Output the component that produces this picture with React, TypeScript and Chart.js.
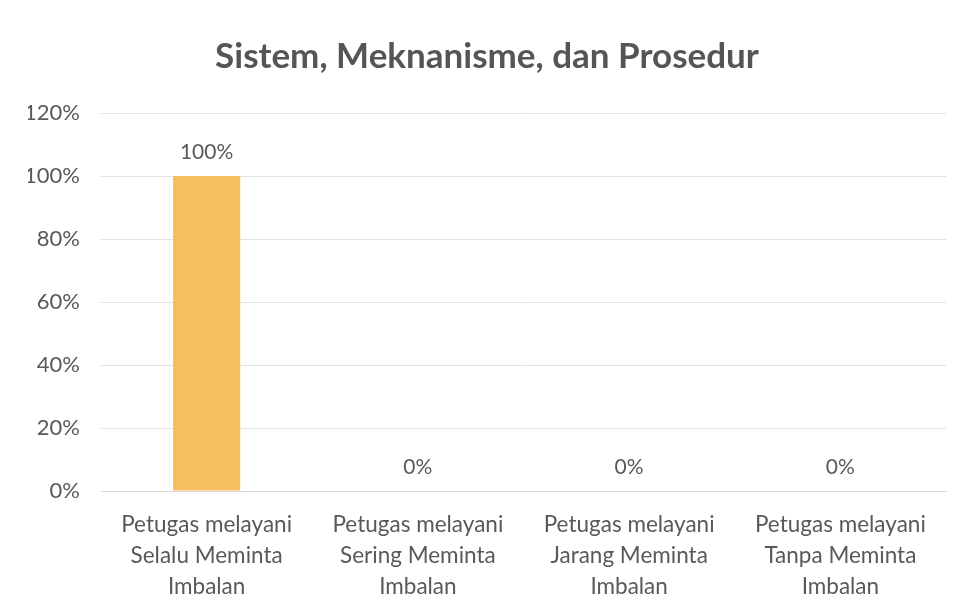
import React, { useEffect, useRef } from "react";
import { Chart, registerables } from "chart.js";

Chart.register(...registerables);

const categories: string[][] = [
  ["Petugas melayani", "Selalu Meminta", "Imbalan"],
  ["Petugas melayani", "Sering Meminta", "Imbalan"],
  ["Petugas melayani", "Jarang Meminta", "Imbalan"],
  ["Petugas melayani", "Tanpa Meminta", "Imbalan"],
];
const values: number[] = [100, 0, 0, 0];
const titleText = "Sistem, Meknanisme, dan Prosedur";
const barColor = "#F6BE5E";
const textColor = "#595959";
const FONT = "Lato";

const dataLabels = {
  id: "dataLabels",
  afterDatasetsDraw(chart: any) {
    const ctx = chart.ctx;
    const meta = chart.getDatasetMeta(0);
    ctx.save();
    ctx.font = `21px ${FONT}`;
    ctx.fillStyle = textColor;
    ctx.textAlign = "center";
    ctx.textBaseline = "bottom";
    meta.data.forEach((el: any, i: number) => {
      ctx.fillText(`${values[i]}%`, el.x, el.y - 13);
    });
    ctx.restore();
  },
};

export default function App() {
  const ref = useRef<HTMLCanvasElement>(null);
  useEffect(() => {
    document.body.style.margin = "0";
    const chart = new Chart(ref.current!, {
      type: "bar",
      data: {
        labels: categories,
        datasets: [
          {
            data: values,
            backgroundColor: barColor,
            barPercentage: 0.53,
            categoryPercentage: 0.6,
          },
        ],
      },
      options: {
        animation: false,
        responsive: false,
        layout: { padding: { top: 36, left: 28, right: 16, bottom: 0 } },
        plugins: {
          legend: { display: false },
          tooltip: { enabled: false },
          title: {
            display: true,
            text: titleText,
            color: "#555555",
            font: { family: FONT, size: 35, weight: "bold", lineHeight: 1.2 },
            padding: { top: 0, bottom: 35 },
          },
        },
        scales: {
          x: {
            grid: { display: false, drawTicks: false },
            border: { display: true, color: "#DADADA" },
            ticks: {
              color: textColor,
              font: { family: FONT, size: 22.5, lineHeight: 1.38 },
              padding: 18,
              maxRotation: 0,
              autoSkip: false,
            },
            afterFit(scale: any) {
              scale.height = 116;
            },
          },
          y: {
            min: 0,
            max: 120,
            grid: { color: "#E2E2E2", drawTicks: false },
            border: { display: false },
            ticks: {
              stepSize: 20,
              color: textColor,
              font: { family: FONT, size: 22 },
              padding: 21,
              callback: (v: any) => `${v}%`,
            },
            afterFit(scale: any) {
              scale.width = 73;
            },
          },
        },
      },
      plugins: [dataLabels],
    });
    return () => chart.destroy();
  }, []);
  return <canvas ref={ref} width={962} height={607} style={{ display: "block" }} />;
}
